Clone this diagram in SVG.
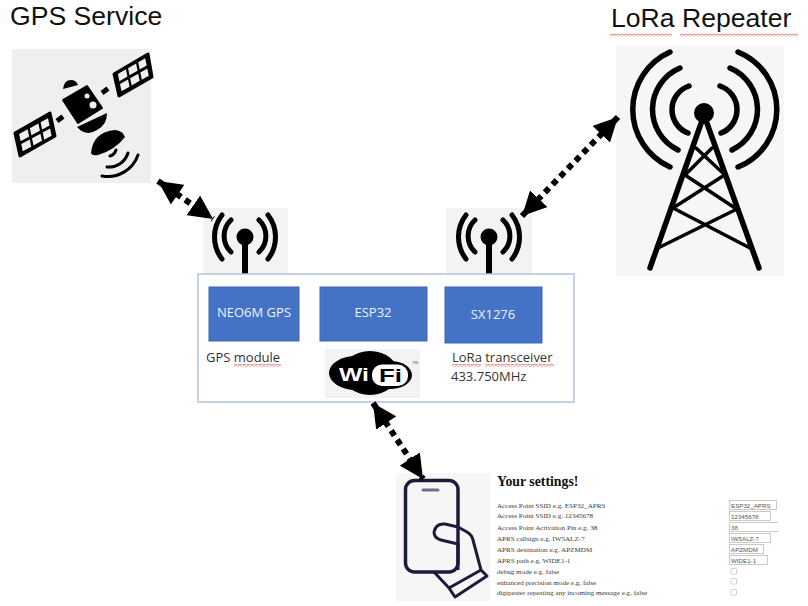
<svg xmlns="http://www.w3.org/2000/svg" width="808" height="606" viewBox="0 0 808 606">
<style>
.ui{font-family:"Open Sans","Noto Sans","Liberation Sans",sans-serif}
.title{font-family:"Liberation Sans",Arial,sans-serif;font-size:26.600px;fill:#111}
.lbl{font-size:13px;fill:#333}
.blk{font-size:13px;fill:#eef2fa;text-anchor:middle}
.box{fill:#4472c4;stroke:#3f69b5;stroke-width:1}
.arc{fill:none;stroke:#000;stroke-linecap:round}
.st{font-family:"Liberation Serif","Times New Roman",serif;font-size:7.100px;fill:#3a3a3a}
.inp{fill:#fff;stroke:#c9c9c9;stroke-width:1}
.val{font-family:"Liberation Sans",Arial,sans-serif;font-size:6.200px;fill:#555}
.cb{fill:#fff;stroke:#c4c4c4;stroke-width:.8}
.link{fill:none;stroke:#000;stroke-width:6;stroke-dasharray:6 5;marker-start:url(#ah);marker-end:url(#ah)}
.bar{fill:url(#sq)}
.cell{fill:#efefef}
</style>
<defs>
<marker id="ah" markerUnits="userSpaceOnUse" viewBox="0 0 24 24" markerWidth="24" markerHeight="24" refX="24" refY="12" orient="auto-start-reverse"><path d="M0 0L24 12L0 24z" fill="#000"/></marker>
<pattern id="sq" width="4" height="3" patternUnits="userSpaceOnUse"><path d="M0 2.400L2 .6L4 2.400" fill="none" stroke="#d8332b" stroke-width=".8"/></pattern>
<path id="cells" class="cell" d="M.12 .14H.35V.44H.12zM.41 .14H.64V.44H.41zM.70 .14H.90V.44H.70zM.12 .56H.35V.86H.12zM.41 .56H.64V.86H.41zM.70 .56H.90V.86H.70z"/>
<g id="ant"><path class="arc" stroke-width="5" d="M231 220A22 22 0 0 0 231 252M222 215A36 36 0 0 0 222 259M259 220A22 22 0 0 1 259 252M268 215A36 36 0 0 1 268 259"/><circle cx="245" cy="237" r="8.500"/><rect x="242" y="237" width="6" height="37"/></g>
</defs>
<rect width="808" height="606" fill="#fff"/>

<g id="gps-service">
<text class="title" x="10" y="25">GPS Service</text>
<rect x="12" y="49" width="139" height="134" fill="#efefef"/>
<path d="M114 74L148 54L152 77L119 96zM15 133L50 113L55 136L20 156z" stroke="#000" stroke-width="3" stroke-linejoin="round"/>
<use href="#cells" transform="matrix(35,-20,5,24,113,73)"/>
<use href="#cells" transform="matrix(37,-20,5,24,14,133)"/>
<path d="M102 93L108 88.500M57 121L63 116.500" stroke="#000" stroke-width="5"/>
<path d="M63 100L87 86L102 108L78 123z" stroke="#000" stroke-width="2" stroke-linejoin="round"/>
<circle cx="87" cy="96" r="2.500" class="cell"/><circle cx="93" cy="105" r="3.500" class="cell"/>
<path d="M63 89Q64 80 71 80Q76 80 78 85z"/>
<path d="M77 127L107 113Q107 125 97 130Q86 137 77 127z"/>
<path d="M91 153Q93 132 115 130Q123 131 125 137Q115 150 98 155Q92 156 91 153z"/>
<path class="arc" stroke-width="3" d="M116 150A9 9 0 0 1 110 156M128 153A20 20 0 0 1 107 167M138 155A32 32 0 0 1 102 176"/>
</g>

<g id="gps-antenna"><rect x="203" y="208" width="85" height="66" fill="#f3f3f3"/><use href="#ant"/></g>
<g id="lora-antenna"><rect x="446" y="208" width="86" height="66" fill="#f3f3f3"/><use href="#ant" x="244"/></g>

<g id="lora-repeater">
<text class="title" x="611" y="27">LoRa Repeater</text>
<rect class="bar" x="610" y="33.500" width="62" height="3"/><rect class="bar" x="680" y="33.500" width="118" height="3"/>
<rect x="616" y="45" width="168" height="231" fill="#f6f6f6"/>
<path class="arc" stroke-width="5.500" d="M670 52A63 63 0 0 0 670 167M680 68A45 45 0 0 0 678 150M689 86A25 25 0 0 0 688 133M738 52A62 62 0 0 1 738 167M730 68A45 45 0 0 1 732 150M720 86A25 25 0 0 1 721 133"/>
<circle cx="704" cy="113" r="10"/>
<path class="arc" stroke-width="5.500" d="M704 115L650 268M704 115L759 268"/>
<path class="arc" stroke-width="3.500" d="M696 148L725 175M712 148L685 175M685 175L735 208M723 176L673 208M673 208L750 248M735 210L658 248"/>
</g>

<g id="device">
<rect x="198" y="274" width="376" height="128" fill="#fff" fill-opacity=".85" stroke="#b7c3dd" stroke-width="1.500"/>
</g>
<g id="neo6m"><rect class="box" x="209" y="287" width="90" height="54"/><text class="ui blk" x="254" y="317">NEO6M GPS</text></g>
<g id="esp32"><rect class="box" x="320" y="287" width="107" height="54"/><text class="ui blk" x="373" y="317">ESP32</text></g>
<g id="sx1276"><rect class="box" x="445" y="287" width="97" height="56"/><text class="ui blk" x="493" y="319">SX1276</text></g>
<g id="gps-label"><text class="ui lbl" x="206" y="362">GPS module</text><rect class="bar" x="234" y="364" width="47" height="3"/></g>
<g id="lora-label"><text class="ui lbl" x="452" y="362">LoRa transceiver</text><rect class="bar" x="452" y="364" width="29" height="3"/><rect class="bar" x="485" y="364" width="69" height="3"/><text class="ui lbl" x="451" y="381">433.750MHz</text></g>

<g id="wifi">
<rect x="325" y="349" width="95" height="49" fill="#f3f3f3"/>
<ellipse cx="356" cy="373" rx="27" ry="17"/><ellipse cx="370" cy="373" rx="28" ry="22"/><ellipse cx="390" cy="375" rx="22" ry="14"/>
<rect x="372" y="364.500" width="36" height="21.500" rx="10" fill="#fff"/>
<text x="339" y="381" font-family="Liberation Sans,Arial,sans-serif" font-weight="700" font-size="18" fill="#fff" textLength="30" lengthAdjust="spacingAndGlyphs">Wi</text>
<text x="379" y="382" font-family="Liberation Sans,Arial,sans-serif" font-weight="700" font-size="18" fill="#000" textLength="23" lengthAdjust="spacingAndGlyphs">Fi</text>
<text x="412" y="364" font-family="Liberation Sans,Arial,sans-serif" font-size="4" fill="#555">TM</text>
</g>

<g id="phone">
<rect x="396" y="473" width="94" height="128" fill="#f6f6f6"/>
<rect x="405.500" y="480.500" width="52.500" height="91.500" rx="9" fill="none" stroke="#1b1b3a" stroke-width="3.500"/>
<path d="M423 490H438" stroke="#6a7088" stroke-width="3" stroke-linecap="round"/>
<path d="M458 527L445 524Q436 523 434 532Q434 538 441 540L458 544L458 570M458 527L467 532Q472 535 473 540L481 570M487 576L455 597L449 588L481 570ZM434 572L449 588" fill="none" stroke="#1b1b3a" stroke-width="3" stroke-linejoin="round"/>
</g>

<g id="settings">
<text x="497" y="486" font-family="Liberation Serif,Times New Roman,serif" font-weight="700" font-size="13.800" fill="#111">Your settings!</text>
<text class="st" x="497" y="507.500">Access Point SSID e.g. ESP32_APRS</text>
<text class="st" x="497" y="518">Access Point SSID e.g. 12345678</text>
<text class="st" x="497" y="529.500">Access Point Activation Pin e.g. 38</text>
<text class="st" x="497" y="540.500">APRS callsign e.g. IW5ALZ-7</text>
<text class="st" x="497" y="551.500">APRS destination e.g. APZMDM</text>
<text class="st" x="497" y="562.500">APRS path e.g. WIDE1-1</text>
<text class="st" x="497" y="573.500">debug mode e.g. false</text>
<text class="st" x="497" y="584.500">enhanced precision mode e.g. false</text>
<text class="st" x="497" y="595">digipeater repeating any incoming message e.g. false</text>
<rect class="inp" x="729.500" y="500.500" width="47" height="9"/><text class="val" x="731" y="507.500">ESP32_APRS</text>
<rect class="inp" x="729.500" y="511.500" width="41" height="9"/><text class="val" x="731" y="518.500">12345678</text>
<path d="M778 522.500H729.500V531.500H778" class="inp"/><text class="val" x="731" y="529.500">38</text>
<rect class="inp" x="729.500" y="533.500" width="41" height="9"/><text class="val" x="731" y="540.500">IW5ALZ-7</text>
<rect class="inp" x="729.500" y="544.500" width="34" height="9"/><text class="val" x="731" y="551.500">APZMDM</text>
<rect class="inp" x="729.500" y="555.500" width="38" height="9"/><text class="val" x="731" y="562.500">WIDE1-1</text>
<rect class="cb" x="731" y="568.500" width="5.500" height="5.500" rx="1"/>
<rect class="cb" x="731" y="578.500" width="5.500" height="5.500" rx="1"/>
<rect class="cb" x="731" y="589.500" width="5.500" height="5.500" rx="1"/>
</g>

<g id="connectors">
<path class="link" d="M158 181L213 219"/>
<path class="link" d="M618 117L522 216"/>
<path class="link" d="M373 403L423 479"/>
</g>
</svg>
